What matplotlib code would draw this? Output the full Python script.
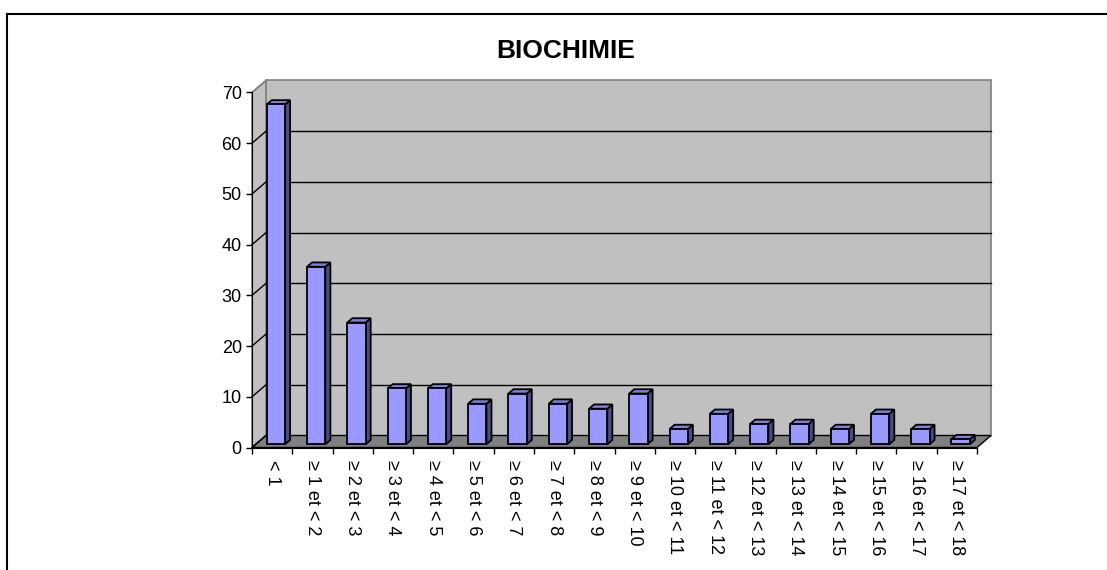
import matplotlib
matplotlib.use("Agg")
import matplotlib.pyplot as plt
from matplotlib.patches import Polygon
from matplotlib.lines import Line2D

plt.rcParams['font.family'] = ['Liberation Sans', 'DejaVu Sans']

# Category labels and counts
categories = ["< 1"] + ["\u2265 %d et < %d" % (i, i + 1) for i in range(1, 18)]
counts = [67, 35, 24, 11, 11, 8, 10, 8, 7, 10, 3, 6, 4, 4, 3, 6, 3, 1]
yticks = [0, 10, 20, 30, 40, 50, 60, 70]

W, H = 1107, 570
fig = plt.figure(figsize=(W / 100, H / 100), dpi=100)
fig.patch.set_facecolor('white')

# plot area in pixels (front plane)
x0, x1 = 252, 977
y0, y1 = 447.5, 92.5
ax = fig.add_axes([x0 / W, (H - y0) / H, (x1 - x0) / W, (y0 - y1) / H])
ax.set_xlim(-0.5, 17.5)
ax.set_ylim(0, 70)
ax.patch.set_alpha(0)

px_x = (x1 - x0) / 18.0      # pixels per category
px_y = (y0 - y1) / 70.0      # pixels per unit
dX = 14 / px_x               # wall depth in data units
dY = 12 / px_y

lo, hi = -0.5, 17.5
top = 70
wall_gray = '#c0c0c0'
edge_gray = '#808080'

# back wall, side wall, floor
ax.add_patch(Polygon([(lo + dX, dY), (hi + dX, dY), (hi + dX, top + dY), (lo + dX, top + dY)],
                     closed=True, facecolor=wall_gray, edgecolor=edge_gray, lw=1.2,
                     clip_on=False, zorder=0))
ax.add_patch(Polygon([(lo, 0), (lo + dX, dY), (lo + dX, top + dY), (lo, top)],
                     closed=True, facecolor=wall_gray, edgecolor=edge_gray, lw=1.2,
                     clip_on=False, zorder=0))
ax.add_patch(Polygon([(lo, 0), (hi, 0), (hi + dX, dY), (lo + dX, dY)],
                     closed=True, facecolor='#808080', edgecolor='black', lw=1.0,
                     clip_on=False, zorder=0.5))

# gridlines on the back wall and side wall
for v in yticks:
    if 0 < v < top:
        ax.plot([lo + dX, hi + dX], [v + dY, v + dY], color='black', lw=1.0,
                clip_on=False, zorder=0.6)
    ax.plot([lo, lo + dX], [v, v + dY], color='black' if v < top else edge_gray,
            lw=1.0, clip_on=False, zorder=0.6)

# 3D bars
bw = 18.3 / px_x
f0, f1 = 0.27, 0.63
for i, v in enumerate(counts):
    bx = i - bw / 2 + f0 * dX
    by = f0 * dY
    ddx = (f1 - f0) * dX
    ddy = (f1 - f0) * dY
    ax.add_patch(Polygon([(bx + bw, by), (bx + bw + ddx, by + ddy),
                          (bx + bw + ddx, by + v + ddy), (bx + bw, by + v)],
                         closed=True, facecolor='#4b4b8c', edgecolor='black', lw=1.3,
                         clip_on=False, zorder=2))
    ax.add_patch(Polygon([(bx, by + v), (bx + bw, by + v),
                          (bx + bw + ddx, by + v + ddy), (bx + ddx, by + v + ddy)],
                         closed=True, facecolor='#7f7fd6', edgecolor='black', lw=1.3,
                         clip_on=False, zorder=2))
    ax.add_patch(Polygon([(bx, by), (bx + bw, by), (bx + bw, by + v), (bx, by + v)],
                         closed=True, facecolor='#9999ff', edgecolor='black', lw=1.3,
                         clip_on=False, zorder=3))

# axes
for s in ['top', 'right']:
    ax.spines[s].set_visible(False)
ax.spines['left'].set_color('black')
ax.spines['bottom'].set_color('black')
ax.spines['left'].set_zorder(4)
ax.spines['bottom'].set_zorder(4)

ax.set_yticks(yticks)
ax.set_yticklabels([str(v) for v in yticks], fontsize=13)
ax.tick_params(axis='y', direction='out', length=4.3, width=1, pad=3, color='black')

ax.set_xticks(range(len(categories)))
ax.set_xticklabels(categories, rotation=270, fontsize=13, va='top', ha='center')
ax.tick_params(axis='x', which='major', length=0, pad=9)
ax.set_xticks([i - 0.5 for i in range(len(categories) + 1)], minor=True)
ax.tick_params(axis='x', which='minor', direction='out', length=4.3, width=1, color='black')

fig.text(566 / W, 1 - 50.5 / H, 'BIOCHIMIE', ha='center', va='center',
         fontsize=19, fontweight='bold')

# outer frame (top and left edges)
fig.add_artist(Line2D([7 / W, 7 / W], [0, 1 - 14 / H], transform=fig.transFigure,
                      color='black', lw=1.5))
fig.add_artist(Line2D([7 / W, 1], [1 - 14 / H, 1 - 14 / H], transform=fig.transFigure,
                      color='black', lw=1.5))

fig.savefig('out.png', dpi=100)
